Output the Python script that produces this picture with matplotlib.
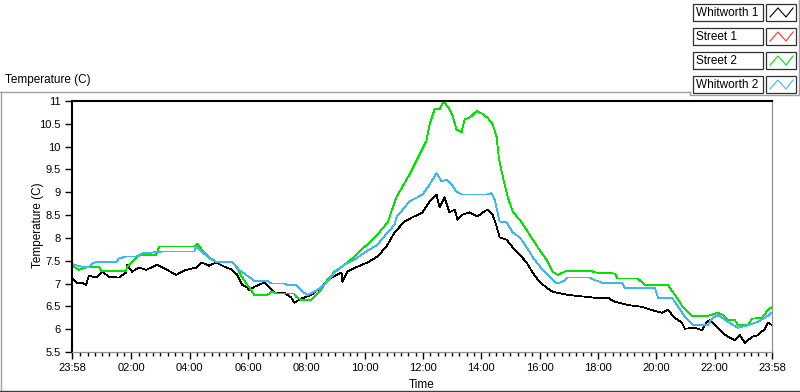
import matplotlib
matplotlib.use('Agg')
import matplotlib.pyplot as plt
from matplotlib.lines import Line2D
from matplotlib.patches import Rectangle

# hours after 23:58 (0..24) and temperatures
whitworth1_t = [0.00, 0.14, 0.34, 0.48, 0.58, 0.82, 1.03, 1.27, 1.61, 1.85, 1.89, 2.06, 2.30, 2.54,
                2.92, 3.26, 3.57, 3.91, 4.26, 4.46, 4.70, 4.94, 5.22, 5.49, 5.67, 5.84, 6.01, 6.08,
                6.25, 6.59, 6.76, 6.94, 7.28, 7.52, 7.62, 7.86, 8.21, 8.55, 8.89, 9.24, 9.27, 9.44,
                9.79, 10.13, 10.47, 10.78, 11.06, 11.40, 11.67, 12.02, 12.26, 12.50, 12.60, 12.77,
                12.94, 13.12, 13.22, 13.39, 13.63, 13.91, 14.08, 14.25, 14.42, 14.56, 14.66, 14.90,
                15.11, 15.35, 15.59, 15.79, 16.03, 16.27, 16.48, 17.00, 17.92, 18.37, 18.61, 19.06,
                19.54, 19.88, 20.22, 20.43, 20.67, 20.91, 21.01, 21.36, 21.60, 21.77, 21.87, 22.04,
                22.28, 22.49, 22.73, 22.90, 23.07, 23.31, 23.52, 23.76, 23.86, 24.00]
whitworth1 = [7.13, 7.02, 7.02, 6.97, 7.17, 7.13, 7.26, 7.15, 7.13, 7.24, 7.41, 7.26, 7.35, 7.30,
              7.41, 7.30, 7.19, 7.30, 7.35, 7.46, 7.39, 7.46, 7.37, 7.30, 7.19, 6.97, 6.91, 6.86,
              6.93, 7.02, 6.93, 6.80, 6.80, 6.69, 6.58, 6.67, 6.75, 6.93, 7.13, 7.24, 7.04, 7.26,
              7.37, 7.46, 7.59, 7.81, 8.12, 8.36, 8.45, 8.56, 8.80, 8.95, 8.67, 8.89,
              8.56, 8.62, 8.40, 8.51, 8.56, 8.47, 8.56, 8.62, 8.51, 8.25, 8.01, 7.96,
              7.79, 7.63, 7.46, 7.24, 7.04, 6.91, 6.82, 6.75, 6.69, 6.69, 6.60, 6.53,
              6.49, 6.42, 6.36, 6.42, 6.25, 6.14, 6.01, 6.03, 5.98, 6.16, 6.20, 6.09,
              5.94, 5.83, 5.76, 5.87, 5.70, 5.83, 5.87, 6.01, 6.14, 6.09]

street1_t = []
street1 = []

street2_t = [0.00, 0.24, 0.58, 0.93, 1.00, 1.85, 1.89, 2.20, 2.37, 2.88, 2.99, 4.19, 4.29, 4.46,
             4.70, 4.94, 5.49, 5.63, 5.84, 6.08, 6.25, 6.70, 6.83, 7.04, 7.62, 7.69, 7.86, 8.21,
             8.48, 8.76, 9.00, 9.34, 9.68, 9.92, 10.20, 10.47, 10.82, 11.12, 11.57, 11.91, 12.15,
             12.26, 12.43, 12.60, 12.74, 12.94, 13.05, 13.18, 13.36, 13.46, 13.63, 13.87, 14.08,
             14.25, 14.42, 14.56, 14.63, 14.73, 14.83, 14.94, 15.11, 15.42, 15.69, 15.97, 16.27,
             16.48, 16.65, 16.96, 17.75, 17.99, 18.61, 18.71, 19.40, 19.64, 20.43, 20.67, 20.94,
             21.25, 21.80, 22.15, 22.32, 22.49, 22.73, 22.83, 23.18, 23.31, 23.66, 23.86, 24.00]
street2 = [7.39, 7.30, 7.37, 7.37, 7.28, 7.28, 7.37, 7.57, 7.63, 7.63, 7.81, 7.81, 7.88, 7.74,
           7.57, 7.48, 7.48, 7.37, 7.13, 6.91, 6.75, 6.75, 6.82, 6.78, 6.78, 6.71, 6.64, 6.64,
           6.82, 7.08, 7.26, 7.41, 7.59, 7.74, 7.90, 8.07, 8.34, 8.89, 9.39, 9.83, 10.12,
           10.49, 10.82, 10.82, 11.00, 10.82, 10.67, 10.38, 10.32, 10.60, 10.63, 10.78, 10.72,
           10.63, 10.49, 10.21, 9.77, 9.46, 9.17, 8.89, 8.58, 8.34, 8.07, 7.79, 7.52,
           7.26, 7.19, 7.28, 7.28, 7.24, 7.22, 7.11, 7.11, 6.97, 6.97, 6.75, 6.49,
           6.29, 6.29, 6.36, 6.31, 6.20, 6.20, 6.09, 6.09, 6.23, 6.25, 6.42, 6.49]

whitworth2_t = [0.00, 0.07, 0.34, 0.58, 0.76, 1.03, 1.51, 1.61, 1.85, 2.20, 2.40, 2.75, 3.09, 4.19,
                4.26, 4.46, 4.70, 4.94, 5.49, 5.73, 5.97, 6.25, 6.70, 6.83, 7.28, 7.38, 7.69, 7.90,
                8.07, 8.41, 8.76, 9.00, 9.34, 9.68, 10.03, 10.47, 10.82, 11.06, 11.12, 11.57, 12.02,
                12.26, 12.50, 12.67, 12.84, 13.01, 13.18, 13.36, 14.22, 14.39, 14.49, 14.66, 14.90,
                15.11, 15.35, 15.59, 15.86, 16.14, 16.38, 16.62, 16.82, 17.00, 17.75, 17.92, 18.16,
                18.85, 18.95, 19.98, 20.09, 20.57, 20.74, 21.01, 21.29, 21.80, 21.94, 22.15, 22.49,
                22.83, 23.18, 23.52, 23.76, 24.00]
whitworth2 = [7.46, 7.41, 7.37, 7.37, 7.46, 7.48, 7.48, 7.55, 7.59, 7.59, 7.66, 7.68, 7.70, 7.70,
              7.81, 7.70, 7.55, 7.48, 7.48, 7.30, 7.19, 7.06, 7.06, 7.00, 7.00, 6.97, 6.97, 6.82,
              6.75, 6.86, 7.04, 7.24, 7.41, 7.52, 7.68, 7.85, 8.12, 8.29, 8.45, 8.80, 8.95,
              9.17, 9.42, 9.24, 9.28, 9.17, 9.02, 8.95, 8.95, 8.98, 8.84, 8.36, 8.34,
              8.12, 8.01, 7.79, 7.52, 7.30, 7.15, 7.00, 7.04, 7.13, 7.13, 7.08, 7.02,
              7.02, 6.91, 6.91, 6.69, 6.69, 6.53, 6.27, 6.09, 6.09, 6.23, 6.31, 6.16,
              6.03, 6.09, 6.16, 6.25, 6.36]

series_names = ['Whitworth 1', 'Street 1', 'Street 2', 'Whitworth 2']
series_colors = ['#000000', '#ff3030', '#00e400', '#3cb6f4']

tick_pos = [0.0] + [h + 2 / 60 for h in range(2, 24, 2)] + [24.0]
tick_labels = ['23:58', '02:00', '04:00', '06:00', '08:00', '10:00', '12:00',
               '14:00', '16:00', '18:00', '20:00', '22:00', '23:58']
y_ticks = [5.5, 6, 6.5, 7, 7.5, 8, 8.5, 9, 9.5, 10, 10.5, 11]

W, H = 800, 392
fig = plt.figure(figsize=(W / 100, H / 100), dpi=100)
fig.patch.set_facecolor('white')


def fx(x):
    return x / W


def fy(y):
    return 1 - y / H


TXT = dict(family=['Liberation Sans', 'DejaVu Sans'], fontsize=8.5)

ax = fig.add_axes([fx(72), fy(352), fx(772) - fx(72), fy(101) - fy(352)])
for tt, vv, col in [(whitworth1_t, whitworth1, series_colors[0]),
                    (street1_t, street1, series_colors[1]),
                    (street2_t, street2, series_colors[2]),
                    (whitworth2_t, whitworth2, series_colors[3])]:
    ax.plot(tt, vv, color=col, lw=0.55, antialiased=False)

ax.set_xlim(0, 24)
ax.set_ylim(5.5, 11)
ax.set_xticks(tick_pos)
ax.set_xticklabels(tick_labels, family=['Liberation Sans', 'DejaVu Sans'], fontsize=8)
minors = [2 / 60 + k * 0.25 for k in range(0, 96)]
minors = [m for m in minors if 0.1 < m < 23.95 and min(abs(m - p) for p in tick_pos) > 0.05]
ax.set_xticks(minors, minor=True)
ax.set_yticks(y_ticks)
ax.set_yticklabels(['%g' % v for v in y_ticks], family=['Liberation Sans', 'DejaVu Sans'], fontsize=8)
ax.tick_params(axis='both', which='major', direction='out', length=5, width=1, pad=3, colors='black')
ax.tick_params(axis='x', which='minor', direction='out', length=3, width=1, colors='black')

for s in ['left', 'top']:
    ax.spines[s].set_color('black')
    ax.spines[s].set_linewidth(1.5)
for s in ['right', 'bottom']:
    ax.spines[s].set_color('#909090')
    ax.spines[s].set_linewidth(0.9)

ax.set_xlabel('Time', **TXT)
ax.set_ylabel('Temperature (C)', **TXT)
ax.xaxis.set_label_coords(0.499, -0.108)
ax.yaxis.set_label_coords(-0.04, 0.506)

# panel frame
fig.add_artist(Line2D([fx(0), fx(690)], [fy(91.5), fy(91.5)], color='#a0a0a0', lw=1))
fig.add_artist(Line2D([fx(0.5), fx(0.5)], [fy(91.5), fy(391)], color='#a0a0a0', lw=1))
fig.add_artist(Line2D([fx(0), fx(800)], [fy(390.5), fy(390.5)], color='#404040', lw=1))
fig.add_artist(Line2D([fx(690), fx(690), fx(800)], [fy(91.5), fy(95), fy(95)], color='#a0a0a0', lw=1))
fig.add_artist(Line2D([fx(798.5), fx(798.5)], [fy(0), fy(95)], color='#a0a0a0', lw=1))
fig.text(fx(5), fy(80), 'Temperature (C)', ha='left', va='center', **TXT)

# legend
for i, (name, col) in enumerate(zip(series_names, series_colors)):
    top = 4 + i * 24
    fig.add_artist(Rectangle((fx(693), fy(top + 17)), fx(70), fy(0) - fy(17),
                             facecolor='white', edgecolor='#303030', lw=0.9))
    fig.text(fx(696), fy(top + 8.5), name, ha='left', va='center', **TXT)
    fig.add_artist(Rectangle((fx(766), fy(top + 17)), fx(30), fy(0) - fy(17),
                             facecolor='white', edgecolor='#303030', lw=0.9))
    zx = [770, 778, 786, 793]
    zy = [top + 13, top + 4, top + 13, top + 4]
    fig.add_artist(Line2D([fx(v) for v in zx], [fy(v) for v in zy], color=col, lw=0.8))

fig.savefig('out.png', dpi=100)
